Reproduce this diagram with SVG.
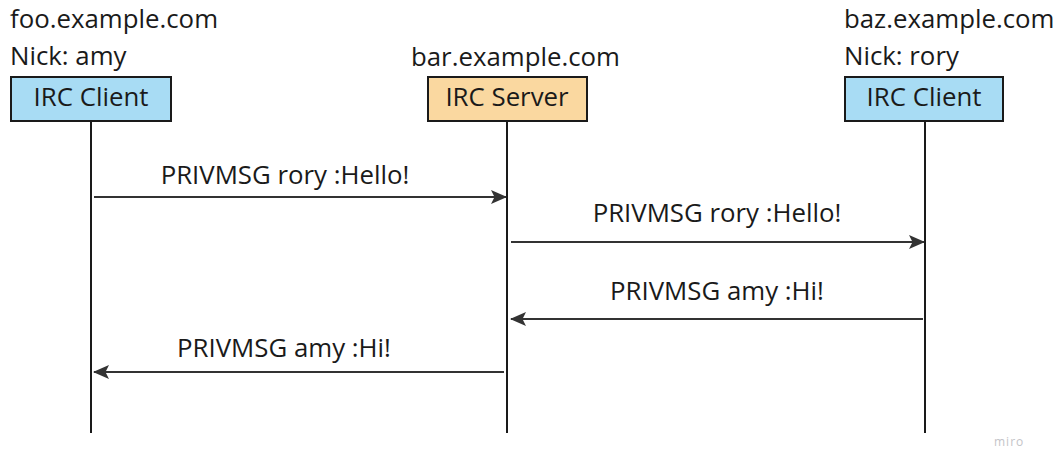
<svg xmlns="http://www.w3.org/2000/svg" width="1062" height="452" viewBox="0 0 1062 452">
<style>
text{font-family:"Open Sans","Noto Sans","Liberation Sans",sans-serif;fill:#1a1a1a;font-size:25.8px}
.box{stroke:#1a1a1a;stroke-width:2}
.client{fill:#a8dcf4}
.server{fill:#fad8a0}
.life{stroke:#1a1a1a;stroke-width:2;fill:none}
.msg{stroke:#333;stroke-width:2;fill:none;marker-end:url(#ah)}
.mid{text-anchor:middle}
</style>
<defs>
<marker id="ah" viewBox="0 0 16 16" refX="15" refY="8" markerWidth="16" markerHeight="16" markerUnits="userSpaceOnUse" orient="auto">
<path d="M0,1 L16,8 L0,15 L3.5,8 Z" fill="#333"/>
</marker>
</defs>
<rect width="1062" height="452" fill="#fff"/>
<g id="node-foo">
<text x="10" y="28">foo.example.com</text>
<text x="10" y="65">Nick: amy</text>
<rect class="box client" x="11" y="77" width="160" height="44"/>
<text class="mid" x="91" y="106">IRC Client</text>
<line class="life" x1="91" y1="121" x2="91" y2="433"/>
</g>
<g id="node-bar">
<text x="411" y="66">bar.example.com</text>
<rect class="box server" x="428" y="77" width="159" height="44"/>
<text class="mid" x="507" y="106">IRC Server</text>
<line class="life" x1="507" y1="121" x2="507" y2="433"/>
</g>
<g id="node-baz">
<text x="844" y="28">baz.example.com</text>
<text x="844" y="65">Nick: rory</text>
<rect class="box client" x="845" y="77" width="158" height="44"/>
<text class="mid" x="924" y="106">IRC Client</text>
<line class="life" x1="925" y1="121" x2="925" y2="433"/>
</g>
<g id="connectors">
<line class="msg" x1="94" y1="197" x2="506" y2="197"/>
<text class="mid" x="285" y="184">PRIVMSG rory :Hello!</text>
<line class="msg" x1="511" y1="242" x2="924" y2="242"/>
<text class="mid" x="717" y="222">PRIVMSG rory :Hello!</text>
<line class="msg" x1="923" y1="319" x2="511" y2="319"/>
<text class="mid" x="717" y="300">PRIVMSG amy :Hi!</text>
<line class="msg" x1="504" y1="372" x2="94" y2="372"/>
<text class="mid" x="284" y="357">PRIVMSG amy :Hi!</text>
</g>
<text x="994" y="446" style="font-size:12px;fill:#c4c4c8;letter-spacing:1px">miro</text>
</svg>
